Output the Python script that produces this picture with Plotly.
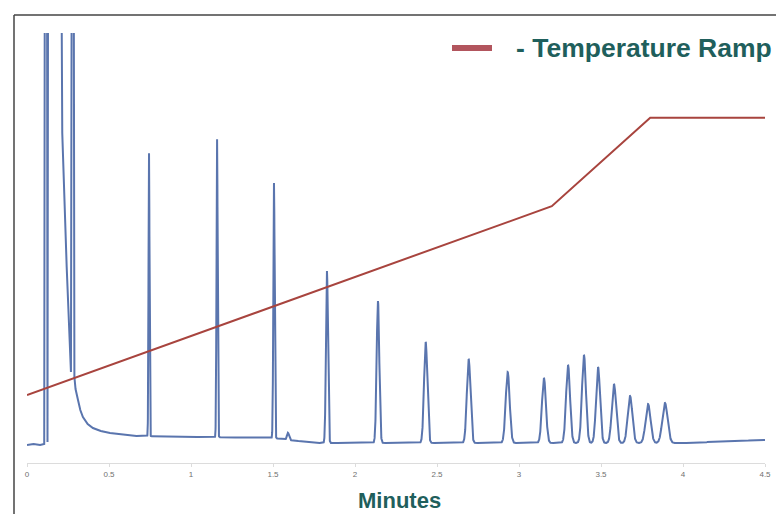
import numpy as np
import plotly.graph_objects as go

# ---- Data ----
# Solvent-front region (minutes, detector signal, arbitrary units); 700 = off scale
solvent_t = [0.0, 0.04, 0.08, 0.105, 0.110, 0.121, 0.125, 0.130, 0.203, 0.215, 0.242, 0.256,
             0.268, 0.275, 0.283, 0.289, 0.296, 0.311, 0.325, 0.341, 0.370, 0.402, 0.450,
             0.506, 0.591, 0.650]
solvent_v = [-4, -3, -4, -3, 700, 700, -1, 700, 700, 308, 174, 108,
             69, 700, 700, 64, 52, 41, 31, 24, 17, 13, 10,
             8, 6, 5]

# Analyte peaks: retention time (min), height above baseline, width (sigma, min)
peak_rt = [0.744, 1.159, 1.506, 1.591, 1.829, 2.140, 2.431, 2.693, 2.931,
           3.152, 3.299, 3.396, 3.482, 3.579, 3.677, 3.787, 3.890]
peak_height = [283, 298, 255, 7, 172, 142, 101, 84, 71,
               65, 78, 88, 76, 59, 47, 39, 40]
peak_sigma = [0.003, 0.0035, 0.004, 0.006, 0.006, 0.008, 0.010, 0.011, 0.012,
              0.012, 0.012, 0.012, 0.012, 0.013, 0.014, 0.015, 0.016]

# Baseline drift anchors (min, signal)
base_t = [0.65, 1.0, 1.5, 1.75, 4.0, 4.5]
base_v = [5, 4, 3, -2, -2, 1]

# Oven temperature programme (min, deg C)
temp_t = [0.0, 3.2, 3.8, 4.5]
temp_c = [40, 104, 134, 134]

x_ticks = [0, 0.5, 1, 1.5, 2, 2.5, 3, 3.5, 4, 4.5]
x_tick_labels = ["0", "0.5", "1", "1.5", "2", "2.5", "3", "3.5", "4", "4.5"]

# ---- Build chromatogram trace ----
t_grid = np.arange(0.651, 4.5005, 0.0005)
sig = np.interp(t_grid, base_t, base_v)
for rt, h, s in zip(peak_rt, peak_height, peak_sigma):
    sig = sig + h * np.exp(-0.5 * ((t_grid - rt) / s) ** 2)
chrom_t = np.concatenate([np.array(solvent_t), t_grid])
chrom_v = np.concatenate([np.array(solvent_v, dtype=float), sig])

W, H = 776, 514
ml, mr, mt, mb = 27, 11, 33, 51
pw, ph = W - ml - mr, H - mt - mb


def px(xp):
    return (xp - ml) / pw


def py(yp):
    return (H - mb - yp) / ph


teal = "#1f5f5c"
fig = go.Figure()
fig.add_trace(go.Scatter(x=chrom_t, y=chrom_v, mode="lines",
                         line=dict(color="#5a75ae", width=2), name="Signal",
                         showlegend=False, hoverinfo="skip"))
fig.add_trace(go.Scatter(x=temp_t, y=temp_c, mode="lines", yaxis="y2",
                         line=dict(color="#a8443e", width=2),
                         name="Temperature Ramp", showlegend=False))

fig.update_layout(
    width=W, height=H,
    margin=dict(l=ml, r=mr, t=mt, b=mb, pad=0, autoexpand=False),
    paper_bgcolor="white", plot_bgcolor="white",
    font=dict(family="Liberation Sans, Arial, sans-serif"),
    xaxis=dict(range=[0, 4.5], tickvals=x_ticks, ticktext=x_tick_labels,
               showgrid=False, zeroline=False, showline=True, automargin=False,
               linecolor="#dcdcdc", linewidth=1, ticks="outside", ticklen=3,
               tickcolor="#dcdcdc", tickfont=dict(size=8, color="#707070"),
               fixedrange=True),
    yaxis=dict(range=[-22, 408], visible=False, showgrid=False, zeroline=False,
               automargin=False),
    yaxis2=dict(range=[16.95, 162.7], overlaying="y", visible=False,
                showgrid=False, zeroline=False, automargin=False),
    shapes=[
        dict(type="line", xref="paper", yref="paper", x0=px(14), x1=px(14),
             y0=py(15), y1=py(516), line=dict(color="#444444", width=1.5)),
        dict(type="line", xref="paper", yref="paper", x0=px(14), x1=px(778),
             y0=py(15), y1=py(15), line=dict(color="#444444", width=1.5)),
        dict(type="line", xref="paper", yref="paper", x0=px(452), x1=px(492),
             y0=py(48), y1=py(48), line=dict(color="#b2555d", width=6)),
    ],
    annotations=[
        dict(text="<b>- Temperature Ramp</b>", xref="paper", yref="paper",
             x=px(514), y=py(48), xanchor="left", yanchor="middle",
             showarrow=False, font=dict(size=26.5, color=teal)),
        dict(text="<b>Minutes</b>", xref="paper", yref="paper",
             x=px(399), y=py(500), xanchor="center", yanchor="middle",
             showarrow=False, font=dict(size=22, color=teal)),
    ],
)

fig.write_html("out.html", config={"displayModeBar": False},
               post_script="document.body.style.margin='0';document.body.style.overflow='hidden';")
